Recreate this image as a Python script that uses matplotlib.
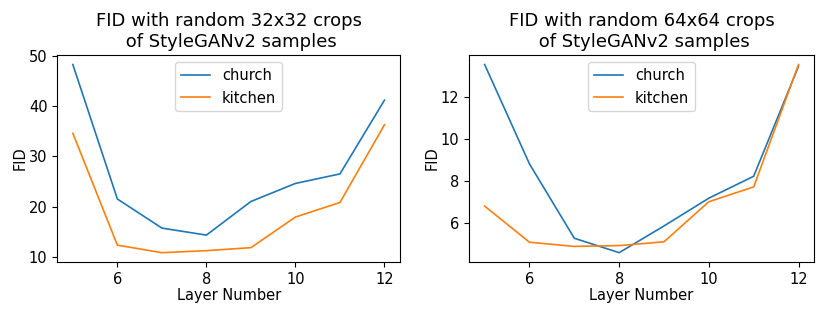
import numpy as np
import matplotlib
matplotlib.use('Agg')
import matplotlib.pyplot as plt

layers = [5, 6, 7, 8, 9, 10, 11, 12]

# 32x32 crops
church_32 = [48.3, 21.5, 15.7, 14.3, 21.0, 24.6, 26.5, 41.2]
kitchen_32 = [34.6, 12.3, 10.8, 11.2, 11.8, 17.9, 20.8, 36.3]

# 64x64 crops
church_64 = [13.57, 8.81, 5.25, 4.56, 5.84, 7.17, 8.22, 13.49]
kitchen_64 = [6.79, 5.06, 4.86, 4.90, 5.08, 7.00, 7.71, 13.57]

titles = ['FID with random 32x32 crops\n of StyleGANv2 samples',
          'FID with random 64x64 crops\n of StyleGANv2 samples']

fig = plt.figure(figsize=(8.3, 3.15), dpi=100)
ax1 = fig.add_axes([0.069, 0.168, 0.413, 0.657])
ax2 = fig.add_axes([0.565, 0.168, 0.416, 0.657])

for ax, church, kitchen, title in [(ax1, church_32, kitchen_32, titles[0]),
                                   (ax2, church_64, kitchen_64, titles[1])]:
    ax.plot(layers, church, color='#1f77b4', linewidth=1.2, label='church')
    ax.plot(layers, kitchen, color='#ff7f0e', linewidth=1.2, label='kitchen')
    ax.set_title(title, fontsize=13)
    ax.set_xlabel('Layer Number', fontsize=10.5, labelpad=1)
    ax.set_ylabel('FID', fontsize=10.5, labelpad=1)
    ax.tick_params(labelsize=10.5)
    ax.legend(loc='upper center', fontsize=10.5)

ax1.set_yticks([10, 20, 30, 40, 50])
ax2.set_yticks([6, 8, 10, 12])
ax1.set_xticks([6, 8, 10, 12])
ax2.set_xticks([6, 8, 10, 12])

plt.savefig('out.png')
